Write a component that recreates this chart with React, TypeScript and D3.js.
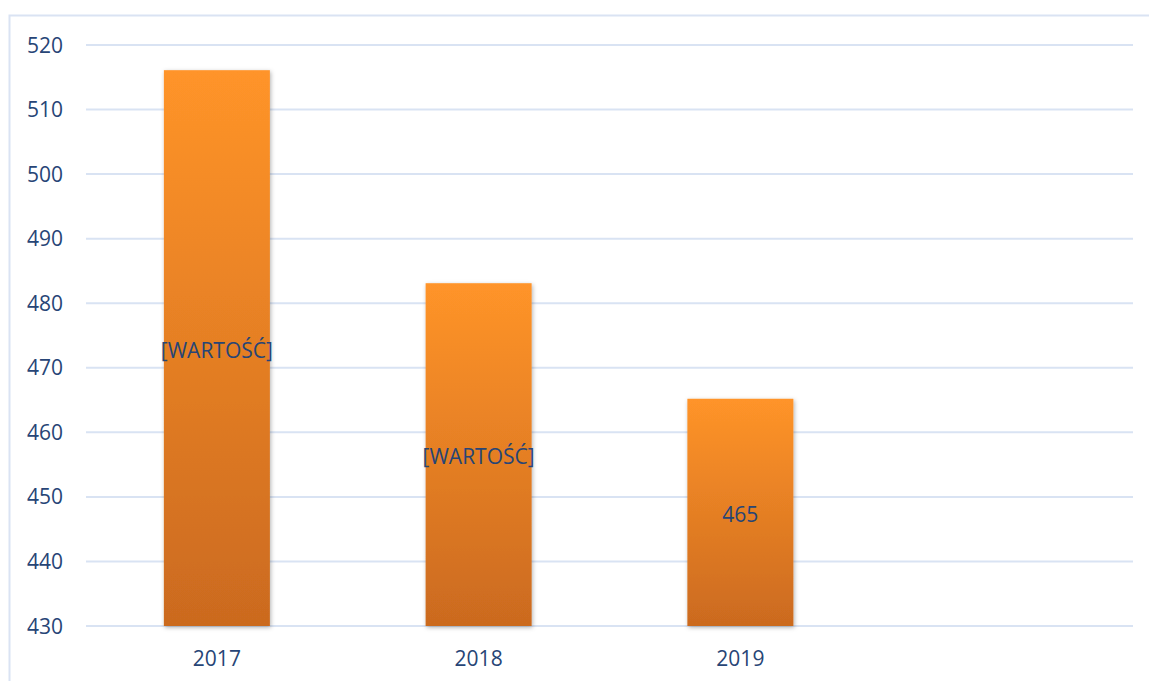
import React from "react";
import * as d3 from "d3";

const categories = ["2017", "2018", "2019", ""];
const values: (number | null)[] = [516.1, 483.1, 465.2, null];
const labels = ["[WARTOŚĆ]", "[WARTOŚĆ]", "465", ""];
const yTicks = [430, 440, 450, 460, 470, 480, 490, 500, 510, 520];

const W = 1149;
const H = 681;
const FONT = "'Open Sans', 'Liberation Sans', sans-serif";
const TEXT = "#274576";

export default function App() {
  const x = d3.scaleBand<string>().domain(categories.map((c, i) => i + ":" + c)).range([86, 1133]).padding(0);
  const y = d3.scaleLinear().domain([430, 520]).range([626, 45]);
  const barW = x.bandwidth() * 0.405;

  return (
    <svg width={W} height={H} style={{ position: "absolute", left: 0, top: 0, background: "#fff" }}>
      <defs>
        <linearGradient id="barGrad" x1="0" y1="0" x2="0" y2="1">
          <stop offset="0%" stopColor="#FF9429" />
          <stop offset="100%" stopColor="#CB6A1F" />
        </linearGradient>
        <filter id="shadow" x="-20%" y="-5%" width="140%" height="110%">
          <feDropShadow dx="1" dy="1.5" stdDeviation="2" floodColor="#000" floodOpacity="0.3" />
        </filter>
      </defs>
      {/* frame */}
      <path d={`M9.5,${H} L9.5,15.5 L${W},15.5`} fill="none" stroke="#DAE3F3" strokeWidth={2} />
      {/* grid */}
      {yTicks.map((t) => (
        <line key={t} x1={86} x2={1133} y1={y(t)} y2={y(t)} stroke="#D9E3F3" strokeWidth={2} />
      ))}
      {yTicks.map((t) => (
        <text key={"l" + t} x={63} y={y(t)} dy="0.36em" textAnchor="end" fontFamily={FONT} fontSize={21} fill={TEXT}>
          {t}
        </text>
      ))}
      {categories.map((c, i) => {
        const v = values[i];
        const cx = (x(i + ":" + c) as number) + x.bandwidth() / 2;
        return (
          <g key={i}>
            {v !== null && (
              <rect
                x={cx - barW / 2}
                y={y(v)}
                width={barW}
                height={y(430) - y(v)}
                fill="url(#barGrad)"
                filter="url(#shadow)"
              />
            )}
            {v !== null && (
              <text x={cx} y={(y(v) + y(430)) / 2 + 2} dy="0.36em" textAnchor="middle" fontFamily={FONT} fontSize={21} fill={TEXT}>
                {labels[i]}
              </text>
            )}
            <text x={cx} y={658} dy="0.36em" textAnchor="middle" fontFamily={FONT} fontSize={21} fill={TEXT}>
              {c}
            </text>
          </g>
        );
      })}
    </svg>
  );
}
